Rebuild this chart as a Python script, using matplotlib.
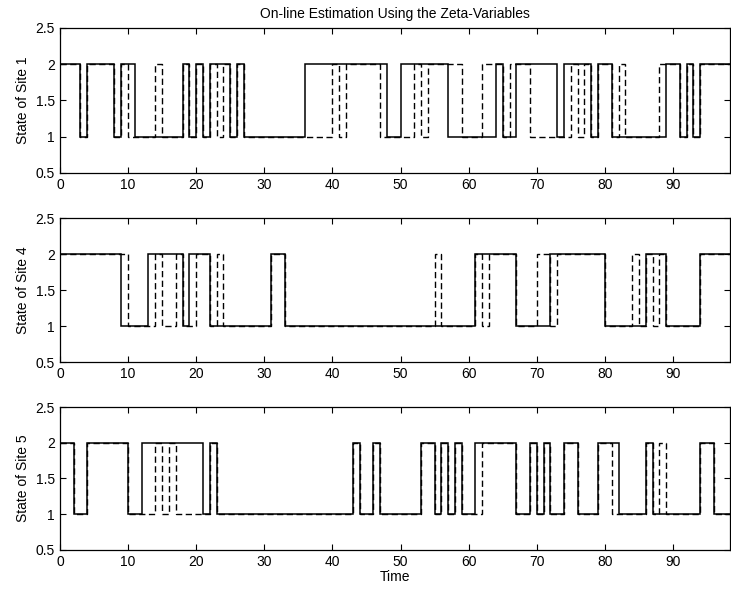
import numpy as np
import matplotlib
matplotlib.use("Agg")
import matplotlib.pyplot as plt

plt.rcParams['font.family'] = ['Liberation Sans', 'DejaVu Sans']
plt.rcParams['font.size'] = 10

t_end = 100

# site 1: true state (solid) and on-line estimate (dashed), segment start times + state
s1_true_t = [0, 3, 4, 8, 9, 11, 18, 19, 20, 21, 22, 25, 26, 27, 36, 48, 50, 57, 64, 65,
             67, 73, 74, 78, 79, 81, 89, 91, 92, 93, 94]
s1_true_v = [2, 1, 2, 1, 2, 1, 2, 1, 2, 1, 2, 1, 2, 1, 2, 1, 2, 1, 2, 1,
             2, 1, 2, 1, 2, 1, 2, 1, 2, 1, 2]
s1_est_t = [0, 3, 4, 8, 9, 10, 14, 15, 18, 19, 20, 21, 22, 23, 24, 25, 26, 27, 40, 41,
            42, 47, 52, 53, 54, 59, 62, 65, 66, 69, 75, 76, 77, 78, 79, 81, 82, 83, 88, 91,
            92, 93, 94]
s1_est_v = [2, 1, 2, 1, 2, 1, 2, 1, 2, 1, 2, 1, 2, 1, 2, 1, 2, 1, 2, 1,
            2, 1, 2, 1, 2, 1, 2, 1, 2, 1, 2, 1, 2, 1, 2, 1, 2, 1, 2, 1,
            2, 1, 2]

# site 4
s4_true_t = [0, 9, 13, 18, 19, 22, 31, 33, 61, 67, 72, 80, 86, 89, 94]
s4_true_v = [2, 1, 2, 1, 2, 1, 2, 1, 2, 1, 2, 1, 2, 1, 2]
s4_est_t = [0, 10, 14, 15, 17, 18, 20, 22, 23, 24, 31, 33, 55, 56, 61, 62, 63, 67, 70, 72,
            73, 80, 84, 85, 86, 87, 88, 89, 94]
s4_est_v = [2, 1, 2, 1, 2, 1, 2, 1, 2, 1, 2, 1, 2, 1, 2, 1, 2, 1, 2, 1,
            2, 1, 2, 1, 2, 1, 2, 1, 2]

# site 5
s5_true_t = [0, 2, 4, 10, 12, 21, 22, 23, 43, 44, 46, 47, 53, 55, 56, 57, 58, 59, 61, 67,
             69, 70, 71, 72, 74, 76, 79, 82, 86, 87, 94, 96]
s5_true_v = [2, 1, 2, 1, 2, 1, 2, 1, 2, 1, 2, 1, 2, 1, 2, 1, 2, 1, 2, 1,
             2, 1, 2, 1, 2, 1, 2, 1, 2, 1, 2, 1]
s5_est_t = [0, 2, 4, 10, 14, 15, 16, 17, 22, 23, 43, 44, 46, 47, 53, 55, 56, 57, 58, 59,
            62, 67, 69, 70, 71, 72, 74, 76, 79, 81, 86, 87, 88, 89, 94, 96]
s5_est_v = [2, 1, 2, 1, 2, 1, 2, 1, 2, 1, 2, 1, 2, 1, 2, 1, 2, 1, 2, 1,
            2, 1, 2, 1, 2, 1, 2, 1, 2, 1, 2, 1, 2, 1, 2, 1]

panels = [
    ("State of Site 1", s1_true_t, s1_true_v, s1_est_t, s1_est_v),
    ("State of Site 4", s4_true_t, s4_true_v, s4_est_t, s4_est_v),
    ("State of Site 5", s5_true_t, s5_true_v, s5_est_t, s5_est_v),
]

fig = plt.figure(figsize=(7.31, 5.90), dpi=100)
# axes boxes in figure fraction (left, bottom, width, height)
boxes = [(0.082, 0.707, 0.916, 0.246),
         (0.082, 0.386, 0.916, 0.244),
         (0.082, 0.068, 0.916, 0.242)]

for i, (lbl, tt, tv, et, ev) in enumerate(panels):
    ax = fig.add_axes(boxes[i])
    ax.stairs(ev, et + [t_end], baseline=None, color='black', lw=1.0,
              linestyle=(0, (4.5, 2.5)))
    ax.stairs(tv, tt + [t_end], baseline=None, color='black', lw=1.1)
    ax.set_xlim(0, 98.3)
    ax.set_ylim(0.5, 2.5)
    ax.set_xticks(np.arange(0, 91, 10))
    ax.set_yticks([0.5, 1, 1.5, 2, 2.5])
    ax.set_yticklabels(['0.5', '1', '1.5', '2', '2.5'])
    ax.tick_params(direction='in', top=True, right=True, length=4, labelsize=10)
    ax.set_ylabel(lbl, fontsize=10)
    for sp in ax.spines.values():
        sp.set_linewidth(0.9)
    if i == 0:
        ax.set_title("On-line Estimation Using the Zeta-Variables", fontsize=10, pad=7)
    if i == 2:
        ax.set_xlabel("Time", fontsize=10, labelpad=1)

fig.savefig("out.png", dpi=100)
